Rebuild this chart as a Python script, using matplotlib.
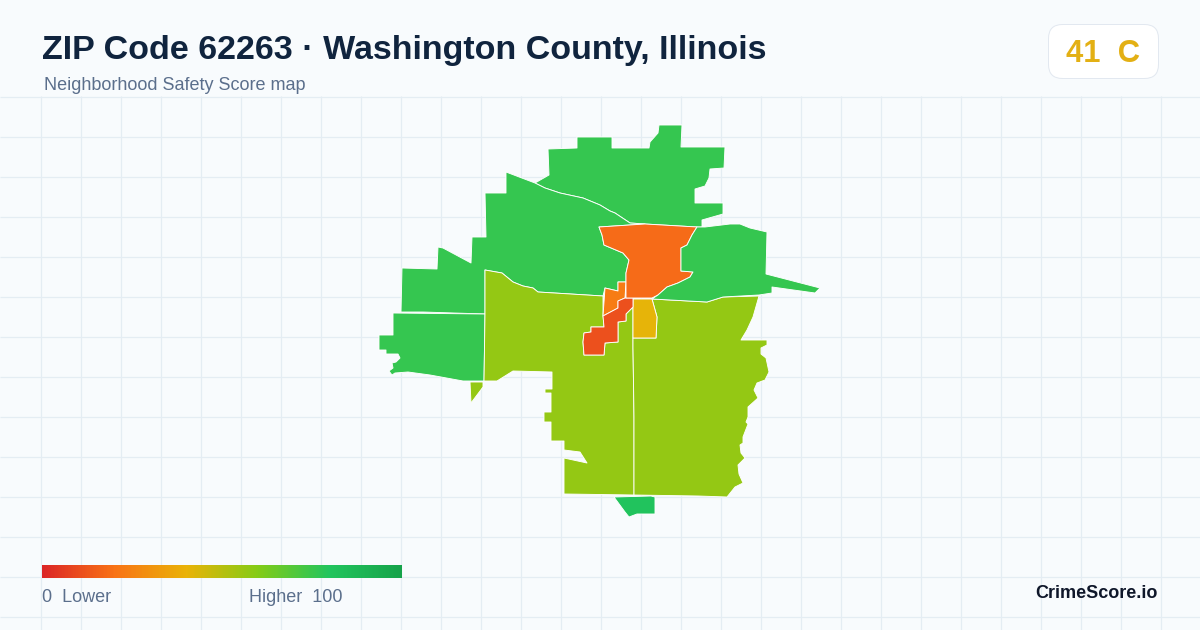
#!/usr/bin/env python3
"""Neighborhood safety score map for ZIP 62263, drawn in image pixel coordinates."""

import numpy as np
import matplotlib
matplotlib.use('Agg')
import matplotlib.pyplot as plt
from matplotlib.colors import LinearSegmentedColormap
from matplotlib.patches import FancyBboxPatch, Polygon

plt.rcParams['font.family'] = ['Liberation Sans', 'DejaVu Sans']

# Data: outlines, with the score of each area
TITLE = 'ZIP Code 62263 · Washington County, Illinois'
SUBTITLE = 'Neighborhood Safety Score map'
BADGE_SCORE = 41
BADGE_GRADE = 'C'

north = [(535, 183), (549, 175), (548, 149), (577, 148), (577, 137), (612, 137), (612, 148),
         (649, 148), (650, 142), (658, 133), (659, 125), (682, 125), (681, 147), (725, 147),
         (724, 168), (710, 169), (709, 178), (705, 186), (695, 189), (695, 203), (723, 203),
         (723, 214), (702, 220), (702, 227), (697, 227), (645, 224), (630, 223), (615, 213),
         (610, 211), (600, 205), (583, 198), (560, 193), (545, 188)]
northwest = [(506, 172), (535, 183), (545, 188), (560, 193), (583, 198), (600, 205), (610, 211),
             (615, 213), (630, 223), (645, 224), (599, 227), (602, 235), (604, 245), (623, 253),
             (629, 260), (626, 273), (626, 282), (618, 282), (618, 291), (605, 288), (603, 296),
             (538, 292), (533, 288), (523, 286), (513, 282), (502, 273), (485, 270), (485, 314),
             (423, 312), (401, 312), (402, 268), (437, 269), (438, 247), (443, 248), (471, 263),
             (472, 237), (486, 237), (485, 193), (506, 193)]
west = [(393, 313), (485, 314), (484, 381), (463, 381), (430, 375), (408, 372), (395, 373),
        (392, 375), (389, 371), (393, 368), (392, 363), (396, 362), (400, 358), (398, 354),
        (386, 354), (386, 350), (379, 350), (379, 335), (393, 335)]
southwest = [(485, 270), (502, 273), (513, 282), (523, 286), (533, 288), (538, 292), (603, 296),
             (603, 315), (604, 327), (591, 327), (591, 332), (584, 333), (583, 342), (584, 355),
             (604, 355), (605, 343), (618, 342), (618, 322), (626, 321), (626, 314), (633, 307),
             (633, 348), (634, 417), (634, 495), (564, 494), (564, 458), (587, 463), (580, 452),
             (564, 450), (564, 441), (551, 441), (551, 422), (544, 422), (544, 412), (551, 412),
             (551, 393), (545, 393), (545, 389), (552, 389), (552, 372), (513, 371), (497, 381),
             (484, 381), (485, 314)]
southwest_sliver = [(470, 382), (483, 382), (483, 387), (471, 403)]
southeast = [(652, 299), (707, 302), (723, 297), (759, 296), (753, 317), (747, 330), (741, 340),
             (767, 340), (767, 345), (761, 348), (761, 354), (766, 358), (769, 372), (765, 380),
             (757, 383), (754, 390), (758, 398), (748, 407), (748, 417), (746, 422), (748, 424),
             (743, 437), (743, 443), (740, 445), (741, 453), (745, 458), (738, 465), (739, 474),
             (743, 483), (735, 487), (727, 497), (698, 496), (634, 495), (634, 417), (633, 348),
             (633, 338), (656, 338), (657, 317)]
center_yellow = [(633, 299), (652, 299), (657, 317), (656, 338), (633, 338)]
center_orange = [(605, 288), (618, 291), (618, 282), (626, 282), (625, 298), (618, 301),
                 (618, 308), (603, 316), (604, 302)]
center_red = [(618, 301), (625, 298), (633, 298), (633, 307), (626, 314), (626, 321), (618, 322),
              (618, 342), (605, 343), (604, 355), (584, 355), (583, 342), (584, 333), (591, 332),
              (591, 327), (604, 327), (603, 316), (618, 308)]
downtown = [(599, 227), (645, 224), (697, 227), (692, 235), (687, 245), (681, 248), (681, 271),
            (693, 272), (690, 277), (678, 283), (667, 287), (658, 295), (652, 298), (626, 298),
            (626, 282), (626, 273), (629, 260), (623, 253), (604, 245), (602, 235)]
northeast = [(697, 227), (705, 227), (730, 224), (740, 224), (750, 228), (767, 232), (766, 274),
             (820, 288), (815, 293), (772, 287), (772, 293), (759, 295), (723, 297), (707, 302),
             (652, 299), (658, 295), (667, 287), (678, 283), (690, 277), (693, 272), (681, 271),
             (681, 248), (687, 245), (692, 235)]
south = [(614, 497), (651, 496), (655, 497), (655, 514), (637, 514), (629, 517), (625, 512)]

areas = [north, northwest, west, southwest, southwest_sliver, southeast,
         center_yellow, center_orange, center_red, downtown, northeast, south]
scores = [76, 76, 76, 57, 57, 57, 41, 23, 11, 18, 76, 81]

scale_stops = [0.0, 0.2, 0.4, 0.6, 0.8, 1.0]
scale_colors = ['#dc2626', '#f97316', '#eab308', '#84cc16', '#22c55e', '#16a34a']

BG = '#f8fbfd'
GRID = '#e4edf3'
cmap = LinearSegmentedColormap.from_list('safety', list(zip(scale_stops, scale_colors)))

fig = plt.figure(figsize=(12, 6.3), dpi=100, facecolor=BG)
ax = fig.add_axes([0, 0, 1, 1])
ax.set_xlim(0, 1200)
ax.set_ylim(630, 0)
ax.axis('off')


def px(size):
    # css pixels to points at dpi 100
    return size * 0.72


# background grid below the header
for x in np.arange(40.5, 1200, 40):
    ax.plot([x, x], [96, 630], color=GRID, lw=px(1.2), zorder=1, solid_capstyle='butt')
for y in np.arange(96.5, 630, 40):
    ax.plot([0, 1200], [y, y], color=GRID, lw=px(1.2), zorder=1, solid_capstyle='butt')

# map areas, thin white borders between them
for outline, score in zip(areas, scores):
    ax.add_patch(Polygon(outline, closed=True, facecolor=cmap(score / 100),
                         edgecolor='white', linewidth=px(0.9), joinstyle='round', zorder=2))

# header
ax.text(42, 47, TITLE, fontsize=px(34), fontweight='bold', color='#10243e',
        ha='left', va='center_baseline', zorder=5)
ax.text(44, 84, SUBTITLE, fontsize=px(18), color='#5b6f8c', ha='left', va='center_baseline', zorder=5)

# score badge
ax.add_patch(FancyBboxPatch((1048.5, 24.5), 110, 54, boxstyle='round,pad=0,rounding_size=14',
                            facecolor='white', edgecolor='#e2e8f0', linewidth=px(1), zorder=4))
ax.text(1103, 51, f'{BADGE_SCORE}  {BADGE_GRADE}', fontsize=px(31), fontweight='bold', color='#e3b014',
        ha='center', va='center_baseline', zorder=5)

# colour scale legend
gradient = np.linspace(0, 1, 360).reshape(1, -1)
ax.imshow(gradient, cmap=cmap, extent=(42, 402, 578, 565), aspect='auto', zorder=3)
ax.set_xlim(0, 1200)
ax.set_ylim(630, 0)
ax.text(42, 596, '0  Lower', fontsize=px(18), color='#5b6f8c', ha='left', va='center_baseline', zorder=5)
ax.text(249, 596, 'Higher  100', fontsize=px(18), color='#5b6f8c', ha='left', va='center_baseline', zorder=5)

ax.text(1158, 592, 'CrimeScore.io', fontsize=px(18), fontweight='bold', color='#0f172a',
        ha='right', va='center_baseline', zorder=5)

fig.savefig('out.png', dpi=100, facecolor=BG)
plt.close(fig)
